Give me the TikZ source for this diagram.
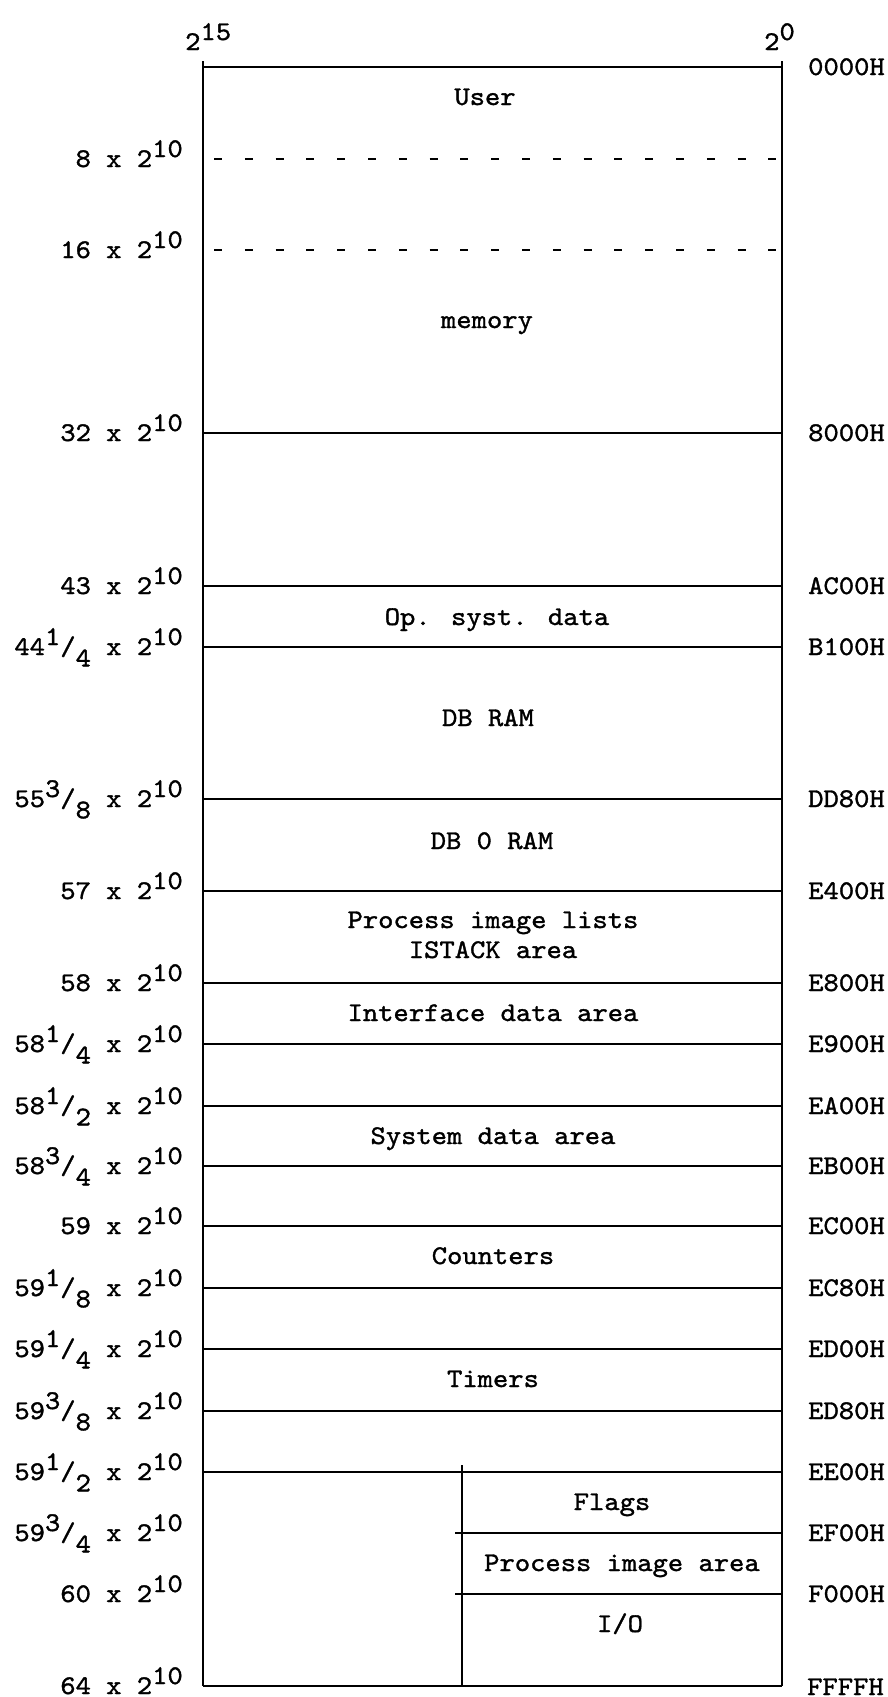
\documentclass[tikz,border=0pt]{standalone}
\usepackage{fontspec}
\newfontfamily\tw{lmmono10-regular.otf}[FakeBold=1.3,FakeStretch=1.08]
\newcommand\supr[1]{\raisebox{0.37em}{#1}}
\newcommand\subr[1]{\raisebox{-0.42em}{#1}}
\tikzset{
  lbl/.style={font=\tw\fontsize{27}{32}\selectfont, inner sep=0pt},
  mline/.style={line width=1.9pt},
  dline/.style={line width=1.9pt, dash pattern=on 8pt off 22.8pt}
}
\begin{document}
\begin{tikzpicture}[x=1pt,y=-1pt]
\useasboundingbox (0,0) rectangle (888,1697);
% frame
\draw[mline] (203,61) -- (203,1686);
\draw[mline] (782,61) -- (782,1686);
\foreach \y in {67,433,586,647,799,891,983,1044,1106,1166,1226,1288,1349,1411,1472,1686}
  \draw[mline] (203,\y) -- (782,\y);
\draw[dline] (214,159) -- (778,159);
\draw[dline] (214,250) -- (778,250);
% divider of lower block
\draw[mline] (462,1465) -- (462,1686);
\draw[mline] (455,1533) -- (782,1533);
\draw[mline] (455,1594) -- (782,1594);
% top labels
\node[lbl, anchor=base west] (t15) at (185,50) {2\supr{15}};
\node[lbl, anchor=base west] (t0) at (764,50) {2\supr{0}};
% left labels
\foreach \y/\t [count=\i] in {
  159/{8 x 2\supr{10}},
  250/{16 x 2\supr{10}},
  433/{32 x 2\supr{10}},
  586/{43 x 2\supr{10}},
  647/{44\supr{1}/\subr{4} x 2\supr{10}},
  799/{55\supr{3}/\subr{8} x 2\supr{10}},
  891/{57 x 2\supr{10}},
  983/{58 x 2\supr{10}},
  1044/{58\supr{1}/\subr{4} x 2\supr{10}},
  1106/{58\supr{1}/\subr{2} x 2\supr{10}},
  1166/{58\supr{3}/\subr{4} x 2\supr{10}},
  1226/{59 x 2\supr{10}},
  1288/{59\supr{1}/\subr{8} x 2\supr{10}},
  1349/{59\supr{1}/\subr{4} x 2\supr{10}},
  1411/{59\supr{3}/\subr{8} x 2\supr{10}},
  1472/{59\supr{1}/\subr{2} x 2\supr{10}},
  1533/{59\supr{3}/\subr{4} x 2\supr{10}},
  1594/{60 x 2\supr{10}},
  1686/{64 x 2\supr{10}}}
  \node[lbl, anchor=base east] (L\i) at (183,\y+8) {\t};
% right labels
\foreach \y/\t [count=\i] in {
  67/0000H, 433/8000H, 586/AC00H, 647/B100H, 799/DD80H, 891/E400H,
  983/E800H, 1044/E900H, 1106/EA00H, 1166/EB00H, 1226/EC00H, 1288/EC80H,
  1349/ED00H, 1411/ED80H, 1472/EE00H, 1533/EF00H, 1594/F000H}
  \node[lbl, anchor=base west] (R\i) at (808,\y+8) {\t};
\node[lbl, anchor=base west] (Rend) at (807,1695) {FFFFH};
% area texts
\node[lbl, anchor=base] (user) at (485,105) {User};
\node[lbl, anchor=base] (mem) at (487,328) {memory};
\node[lbl, anchor=base] (os) at (497,625) {Op. syst. data};
\node[lbl, anchor=base] (db) at (488,726) {DB RAM};
\node[lbl, anchor=base] (db0) at (492,849) {DB 0 RAM};
\node[lbl, anchor=base] (pil) at (493,928) {Process image lists};
\node[lbl, anchor=base] (ist) at (493,958) {ISTACK area};
\node[lbl, anchor=base] (ida) at (493,1021) {Interface data area};
\node[lbl, anchor=base] (sda) at (493,1144) {System data area};
\node[lbl, anchor=base] (cnt) at (493,1264) {Counters};
\node[lbl, anchor=base] (tim) at (493,1387) {Timers};
\node[lbl, anchor=base] (flg) at (612,1510) {Flags};
\node[lbl, anchor=base] (pia) at (622,1571) {Process image area};
\node[lbl, anchor=base] (io) at (620,1632) {I/O};
\end{tikzpicture}
\end{document}
